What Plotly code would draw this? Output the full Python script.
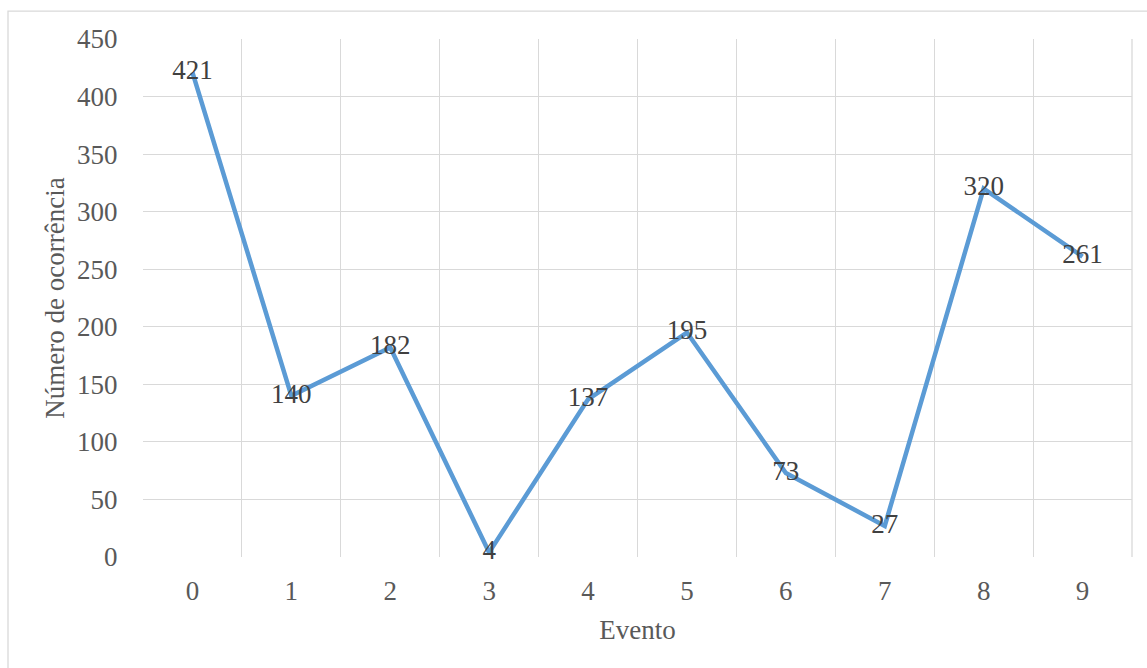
import plotly.graph_objects as go

eventos = [0, 1, 2, 3, 4, 5, 6, 7, 8, 9]
ocorrencias = [421, 140, 182, 4, 137, 195, 73, 27, 320, 261]
y_ticks = [0, 50, 100, 150, 200, 250, 300, 350, 400, 450]
x_bounds = [-0.5 + i for i in range(11)]

font_family = "Liberation Serif, Times New Roman, serif"
FS = 27

fig = go.Figure()
fig.add_trace(go.Scatter(
    x=eventos, y=ocorrencias,
    mode="lines+text",
    text=[str(v) for v in ocorrencias],
    textposition="middle center",
    textfont=dict(family=font_family, size=FS, color="#404040"),
    line=dict(color="#5B9BD5", width=4.5),
    cliponaxis=False,
    hoverinfo="skip",
))

fig.update_layout(
    width=1147, height=668,
    margin=dict(l=143, r=15, t=39, b=111),
    paper_bgcolor="white", plot_bgcolor="white",
    showlegend=False,
    font=dict(family=font_family, size=FS, color="#595959"),
    xaxis=dict(
        range=[-0.5, 9.5],
        tickvals=eventos,
        ticktext=[str(e) for e in eventos],
        showgrid=False,
        zeroline=False,
        showline=False,
        ticks="outside", ticklen=0,
        ticklabelstandoff=10,
        tickfont=dict(family=font_family, size=FS, color="#595959"),
        minor=dict(tickvals=x_bounds, showgrid=True, gridcolor="#D9D9D9", gridwidth=1.3, ticks=""),
        title=dict(text="Evento", font=dict(family=font_family, size=FS, color="#595959"), standoff=14),
        fixedrange=True,
    ),
    yaxis=dict(
        range=[0, 450],
        tickvals=y_ticks,
        showgrid=True, gridcolor="#D9D9D9", gridwidth=1.3,
        zeroline=False,
        showline=False,
        ticks="outside", ticklen=0,
        ticklabelstandoff=19,
        tickfont=dict(family=font_family, size=FS, color="#595959"),
        title=dict(text="Número de ocorrência", font=dict(family=font_family, size=FS, color="#595959"), standoff=4),
        fixedrange=True,
    ),
    shapes=[
        dict(type="rect", xref="paper", yref="paper",
             x0=1, x1=1, y0=0, y1=1, line=dict(color="#D9D9D9", width=1.3), layer="below"),
        dict(type="rect", xref="paper", yref="paper",
             x0=-0.1365, x1=1.05, y0=-0.3, y1=1.054,
             line=dict(color="#D9D9D9", width=1.3), layer="below"),
    ],
)

fig.write_html("out.html")
